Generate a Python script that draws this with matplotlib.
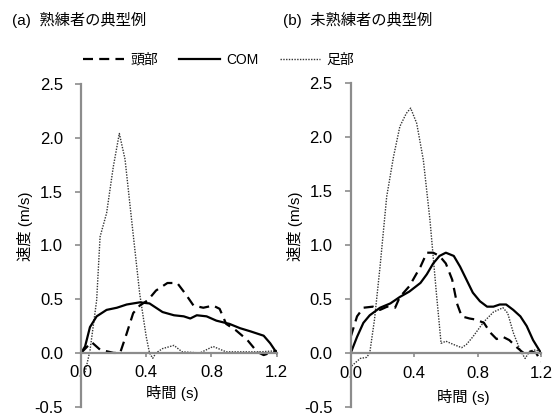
import matplotlib
matplotlib.use("Agg")
import matplotlib.pyplot as plt
from matplotlib.lines import Line2D

plt.rcParams['font.family'] = ['Liberation Sans', 'Noto Sans CJK JP', 'DejaVu Sans']

# ---- data (a) skilled ----
a_foot_t = [0.025, 0.055, 0.096, 0.117, 0.157, 0.198, 0.235, 0.27, 0.31, 0.36, 0.40, 0.42, 0.44, 0.46,
            0.50, 0.57, 0.62, 0.73, 0.81, 0.89, 1.0, 1.1, 1.2]
a_foot_v = [-0.18, 0.02, 0.49, 1.08, 1.30, 1.73, 2.04, 1.80, 1.24, 0.55, 0.15, 0.0, -0.05, 0.0,
            0.04, 0.07, 0.01, 0.0, 0.06, 0.01, 0.01, 0.01, 0.02]
a_head_t = [0.0, 0.065, 0.117, 0.2, 0.24, 0.28, 0.32, 0.36, 0.41, 0.46, 0.53, 0.59, 0.64, 0.69, 0.75,
            0.81, 0.85, 0.89, 0.95, 1.02, 1.08, 1.12, 1.16, 1.2]
a_head_v = [0.0, 0.10, 0.03, 0.0, 0.0, 0.18, 0.37, 0.44, 0.49, 0.58, 0.65, 0.65, 0.55, 0.44, 0.42,
            0.44, 0.41, 0.27, 0.21, 0.12, 0.01, -0.02, 0.0, 0.02]
a_com_t = [0.0, 0.025, 0.055, 0.096, 0.157, 0.22, 0.28, 0.36, 0.42, 0.50, 0.57, 0.63, 0.67, 0.71, 0.77,
           0.83, 0.91, 0.975, 1.04, 1.12, 1.16, 1.2]
a_com_v = [0.0, 0.06, 0.24, 0.34, 0.40, 0.42, 0.45, 0.47, 0.46, 0.38, 0.35, 0.34, 0.32, 0.35, 0.34,
           0.30, 0.27, 0.23, 0.20, 0.16, 0.09, 0.0]

# ---- data (b) unskilled ----
b_foot_t = [0.006, 0.06, 0.10, 0.12, 0.15, 0.185, 0.227, 0.27, 0.31, 0.35, 0.378, 0.416, 0.458, 0.50,
            0.54, 0.57, 0.60, 0.647, 0.70, 0.73, 0.77, 0.84, 0.90, 0.96, 0.99, 1.025, 1.07, 1.10,
            1.13, 1.17, 1.2]
b_foot_v = [-0.12, -0.05, -0.04, 0.0, 0.31, 0.80, 1.45, 1.82, 2.10, 2.22, 2.27, 2.13, 1.79, 1.23,
            0.56, 0.09, 0.11, 0.08, 0.05, 0.08, 0.15, 0.29, 0.38, 0.42, 0.37, 0.19, 0.02, -0.05,
            0.02, 0.03, 0.0]
b_head_t = [0.0, 0.04, 0.08, 0.14, 0.185, 0.23, 0.28, 0.31, 0.37, 0.44, 0.48, 0.52, 0.56, 0.60, 0.64,
            0.67, 0.70, 0.75, 0.79, 0.84, 0.88, 0.92, 0.96, 1.0, 1.05, 1.09, 1.13, 1.17, 1.2]
b_head_v = [0.15, 0.34, 0.42, 0.43, 0.40, 0.43, 0.42, 0.52, 0.62, 0.80, 0.93, 0.93, 0.90, 0.83, 0.68,
            0.46, 0.34, 0.32, 0.31, 0.28, 0.19, 0.13, 0.15, 0.12, 0.05, 0.0, 0.02, 0.0, -0.08]
b_com_t = [0.0, 0.04, 0.08, 0.12, 0.185, 0.25, 0.31, 0.37, 0.44, 0.48, 0.52, 0.56, 0.60, 0.65, 0.69,
           0.73, 0.77, 0.815, 0.86, 0.90, 0.94, 0.98, 1.025, 1.07, 1.11, 1.15, 1.2]
b_com_v = [0.0, 0.15, 0.28, 0.35, 0.42, 0.46, 0.52, 0.57, 0.65, 0.73, 0.83, 0.90, 0.93, 0.90, 0.80,
           0.68, 0.56, 0.48, 0.43, 0.43, 0.45, 0.45, 0.40, 0.34, 0.25, 0.12, 0.0]

xticks = [0.0, 0.4, 0.8, 1.2]
yticks = [-0.5, 0.0, 0.5, 1.0, 1.5, 2.0, 2.5]
labels = ['頭部', 'COM', '足部']
titles = ['(a)  熟練者の典型例', '(b)  未熟練者の典型例']

W, H = 557, 418
fig = plt.figure(figsize=(W / 100, H / 100), dpi=100)

head_style = dict(color='black', lw=1.6, linestyle=(0, (4.5, 2.8)))
com_style = dict(color='black', lw=1.6, linestyle='-')
foot_style = dict(color='#333333', lw=1.0, linestyle=(0, (1, 1)))

axes_px = [(81, 276.7, 84, 406.7), (350.7, 541, 83.3, 407)]
data = [(a_head_t, a_head_v, a_com_t, a_com_v, a_foot_t, a_foot_v),
        (b_head_t, b_head_v, b_com_t, b_com_v, b_foot_t, b_foot_v)]
spine_col = '#8c8c8c'

for i, (x0, x1, yt, yb) in enumerate(axes_px):
    ax = fig.add_axes([x0 / W, 1 - yb / H, (x1 - x0) / W, (yb - yt) / H])
    ht, hv, ct, cv, ft, fv = data[i]
    ax.plot(ft, fv, **foot_style)
    ax.plot(ht, hv, **head_style)
    ax.plot(ct, cv, **com_style)
    ax.set_xlim(0, 1.2)
    ax.set_ylim(-0.5, 2.5)
    ax.set_xticks(xticks)
    ax.set_yticks(yticks)
    ax.set_xticklabels([f'{v:.1f}' for v in xticks])
    ax.set_yticklabels([f'{v:.1f}' for v in yticks])
    for s in ['top', 'right']:
        ax.spines[s].set_visible(False)
    ax.spines['bottom'].set_position(('data', 0))
    for s in ['left', 'bottom']:
        ax.spines[s].set_color(spine_col)
        ax.spines[s].set_linewidth(1.6)
    ax.tick_params(axis='both', colors=spine_col, labelcolor='black', labelsize=12, width=1.2)
    ax.tick_params(axis='x', length=3, direction='out', pad=6)
    ax.tick_params(axis='y', length=4, direction='out', pad=9)
    ax.patch.set_alpha(0)

def axis_label(x, y, rot):
    kw = dict(ha='center', va='center', rotation=rot)
    return kw

# y labels
for xp in (25, 295):
    fig.text(xp / W, 1 - 226 / H, '速度 (m/s)', rotation=90, ha='center', va='center', fontsize=11)
# x labels
fig.text(172 / W, 1 - 393 / H, '時間 (s)', ha='center', va='center', fontsize=11)
fig.text(463 / W, 1 - 397 / H, '時間 (s)', ha='center', va='center', fontsize=11)
# titles
fig.text(12 / W, 1 - 20 / H, titles[0], ha='left', va='center', fontsize=11)
fig.text(283 / W, 1 - 20 / H, titles[1], ha='left', va='center', fontsize=11)

handles = [Line2D([], [], **head_style), Line2D([], [], **com_style), Line2D([], [], **foot_style)]
fig.legend(handles, labels, loc='center', bbox_to_anchor=(219 / W, 1 - 60 / H), ncol=3,
           frameon=False, fontsize=10, handlelength=2.9, handletextpad=0.5, columnspacing=1.5,
           borderpad=0, borderaxespad=0)

fig.savefig('out.png', dpi=100)
